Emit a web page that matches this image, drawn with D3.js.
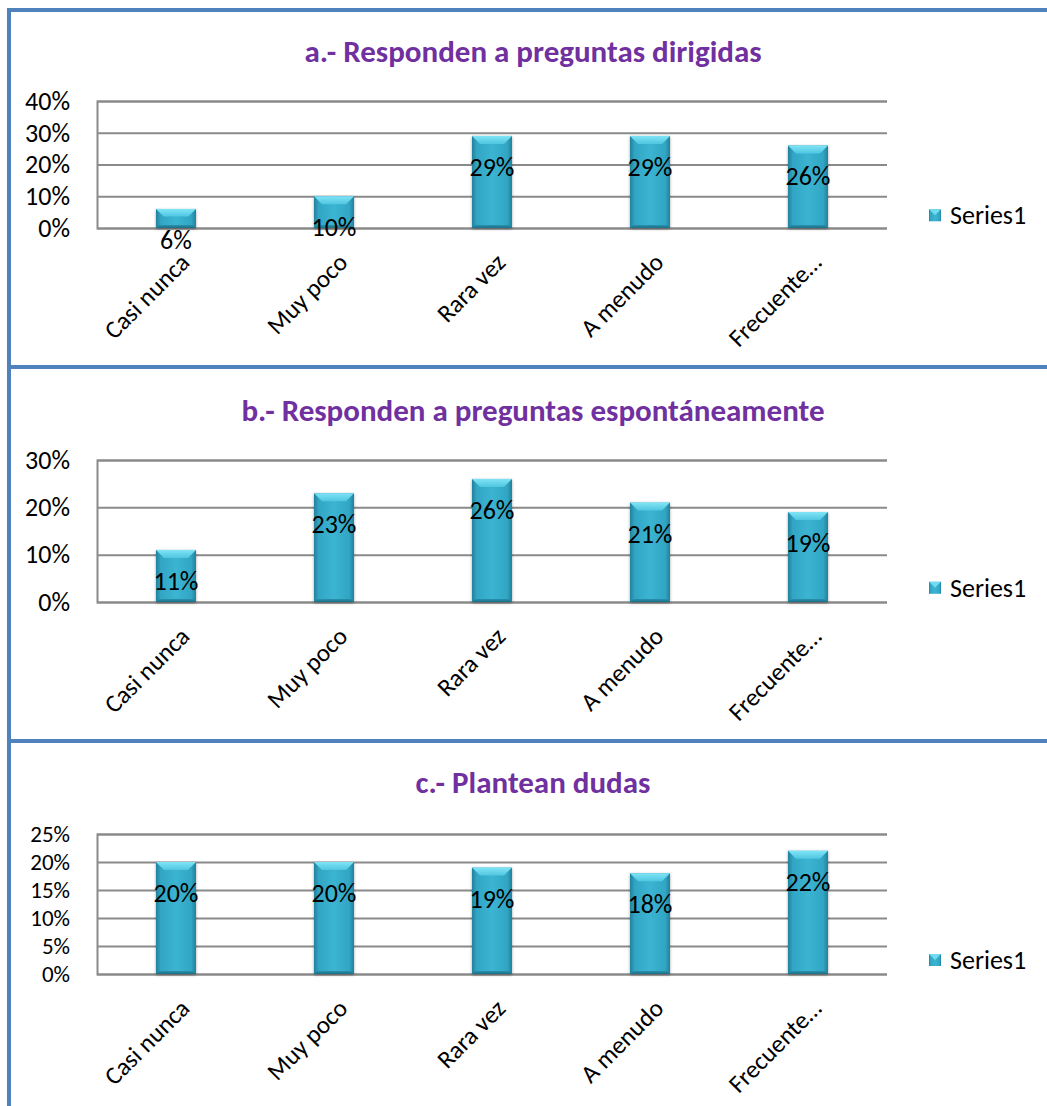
<!DOCTYPE html>
<html>
<head>
<meta charset="utf-8">
<script src="https://cdn.jsdelivr.net/npm/d3@7"></script>
<style>
  html, body { margin: 0; padding: 0; background: #fff; }
  svg { display: block; }
  text { font-family: Carlito, Lato, "Open Sans", sans-serif; }
</style>
</head>
<body>
<svg id="chart" width="1047" height="1106"></svg>
<script>
const categories = ["Casi nunca", "Muy poco", "Rara vez", "A menudo", "Frecuente…"];
const titles = [
  "a.- Responden a preguntas dirigidas",
  "b.- Responden a preguntas espontáneamente",
  "c.- Plantean dudas"
];
const valuesA = [0.06, 0.10, 0.29, 0.29, 0.26];
const valuesB = [0.11, 0.23, 0.26, 0.21, 0.19];
const valuesC = [0.20, 0.20, 0.19, 0.18, 0.22];
const ticksA = [0, 0.1, 0.2, 0.3, 0.4];
const ticksB = [0, 0.1, 0.2, 0.3];
const ticksC = [0, 0.05, 0.1, 0.15, 0.2, 0.25];
const seriesName = "Series1";

const svg = d3.select("#chart");
const defs = svg.append("defs");

const g1 = defs.append("linearGradient").attr("id", "barBody").attr("x1", 0).attr("x2", 1).attr("y1", 0).attr("y2", 0);
[["0%", "#21809c"], ["12%", "#31a6c4"], ["50%", "#3bb4d2"], ["88%", "#31a6c4"], ["100%", "#21809c"]]
  .forEach(([o, c]) => g1.append("stop").attr("offset", o).attr("stop-color", c));
const g2 = defs.append("linearGradient").attr("id", "barTop").attr("x1", 0).attr("x2", 0).attr("y1", 0).attr("y2", 1);
[["0%", "#80e4f5"], ["100%", "#50c6e1"]].forEach(([o, c]) => g2.append("stop").attr("offset", o).attr("stop-color", c));
const g3 = defs.append("linearGradient").attr("id", "barBottom").attr("x1", 0).attr("x2", 0).attr("y1", 0).attr("y2", 1);
[["0%", "#2a91ae"], ["100%", "#1c6f87"]].forEach(([o, c]) => g3.append("stop").attr("offset", o).attr("stop-color", c));
const sh = defs.append("filter").attr("id", "shadow").attr("x", "-30%").attr("y", "-30%").attr("width", "160%").attr("height", "160%");
sh.append("feDropShadow").attr("dx", 0).attr("dy", 1).attr("stdDeviation", 1.5).attr("flood-color", "#000").attr("flood-opacity", 0.35);

const panels = [
  { title: titles[0], values: valuesA, ticks: ticksA, max: 0.4, titleY: 51, top: 101, bottom: 228, tickFs: 26 },
  { title: titles[1], values: valuesB, ticks: ticksB, max: 0.3, titleY: 410, top: 460, bottom: 602, tickFs: 26 },
  { title: titles[2], values: valuesC, ticks: ticksC, max: 0.25, titleY: 782, top: 834, bottom: 974, tickFs: 23 }
];

const plotLeft = 97, plotRight = 887;
const pct = d3.format(".0%");
const FS = 26;

panels.forEach(p => {
  const g = svg.append("g");
  const x = d3.scaleBand().domain(categories).range([plotLeft, plotRight]).paddingInner(0).paddingOuter(0);
  const y = d3.scaleLinear().domain([0, p.max]).range([p.bottom, p.top]);
  const bw = x.bandwidth() * 0.253;

  g.append("text").attr("x", 533).attr("y", p.titleY).attr("text-anchor", "middle")
    .attr("dominant-baseline", "central")
    .attr("font-size", 31).attr("font-weight", "bold").attr("fill", "#7030A0").text(p.title);

  const ax = g.append("g").attr("transform", `translate(${plotLeft},0)`)
    .call(d3.axisLeft(y).tickValues(p.ticks).tickFormat(pct).tickSize(-(plotRight - plotLeft)).tickPadding(27));
  ax.select(".domain").attr("stroke", "#8a8a8a").attr("stroke-width", 2);
  ax.selectAll(".tick line").attr("stroke", "#8a8a8a").attr("stroke-width", 2);
  ax.selectAll(".tick text").attr("font-size", p.tickFs).attr("fill", "#000")
    .style("font-family", "Carlito, Lato, 'Open Sans', sans-serif");

  const bars = g.selectAll("g.bar").data(p.values).join("g").attr("class", "bar")
    .attr("filter", "url(#shadow)");
  bars.each(function (v, i) {
    const b = d3.select(this);
    const cx = x(categories[i]) + x.bandwidth() / 2;
    const x0 = cx - bw / 2, x1 = cx + bw / 2;
    const yt = y(v), yb = y(0);
    const h = yb - yt;
    const bev = Math.min(8, h / 2.5);
    b.append("rect").attr("x", x0).attr("y", yt).attr("width", bw).attr("height", h).attr("fill", "url(#barBody)");
    b.append("path").attr("d", `M${x0},${yt}L${x1},${yt}L${x1 - bev},${yt + bev}L${x0 + bev},${yt + bev}Z`).attr("fill", "url(#barTop)");
    b.append("path").attr("d", `M${x0},${yb}L${x1},${yb}L${x1 - 3},${yb - 3}L${x0 + 3},${yb - 3}Z`).attr("fill", "url(#barBottom)");
  });

  g.selectAll("text.lbl").data(p.values).join("text").attr("class", "lbl")
    .attr("x", (d, i) => x(categories[i]) + x.bandwidth() / 2)
    .attr("y", d => y(d) + 31)
    .attr("text-anchor", "middle").attr("dominant-baseline", "central")
    .attr("font-size", FS).attr("fill", "#000").text(d => pct(d));

  g.selectAll("text.cat").data(categories).join("text").attr("class", "cat")
    .attr("transform", d => `translate(${x(d) + x.bandwidth() / 2 + 15},${p.bottom + 36}) rotate(-45)`)
    .attr("text-anchor", "end").attr("font-size", FS - 1).attr("fill", "#000").text(d => d);

  const ly = (p.top + p.bottom) / 2 + (p.bottom - p.top) * 0.40;
  const lg = g.append("g").attr("transform", `translate(929,${ly})`);
  lg.append("rect").attr("x", 0).attr("y", -6).attr("width", 12).attr("height", 12).attr("fill", "url(#barBody)");
  lg.append("path").attr("d", "M0,-6L12,-6L6,0Z").attr("fill", "#6fdcf0");
  lg.append("text").attr("x", 21).attr("y", 0).attr("dominant-baseline", "central")
    .attr("font-size", FS).attr("fill", "#000").text(seriesName);
});

// panel borders
const border = svg.append("g").attr("stroke", "#4F81BD").attr("stroke-width", 4).attr("fill", "none");
border.append("line").attr("x1", 9).attr("x2", 9).attr("y1", 8).attr("y2", 1106);
[10, 367, 741].forEach(yy => border.append("line").attr("x1", 7).attr("x2", 1047).attr("y1", yy).attr("y2", yy));
</script>
</body>
</html>
